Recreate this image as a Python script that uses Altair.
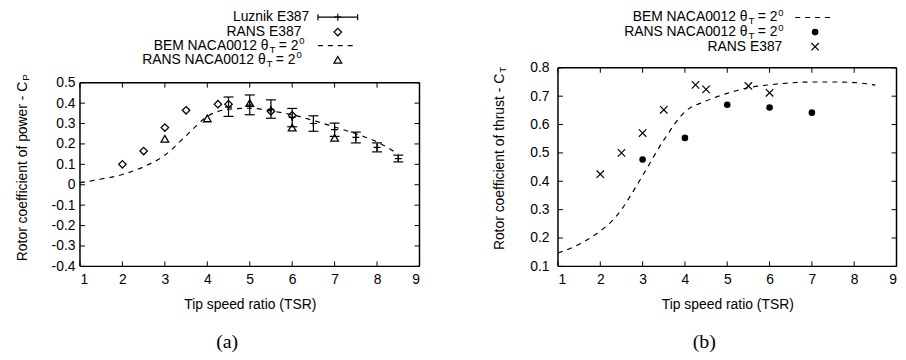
import altair as alt
import pandas as pd

# ---------------- data: panel (a) power coefficient ----------------
bem_a_tsr = [1, 1.5, 2, 2.5, 3, 3.5, 4, 4.5, 5, 5.5, 6, 6.5, 7, 7.5, 8, 8.5]
bem_a_cp = [0.01, 0.028, 0.05, 0.088, 0.145, 0.24, 0.335, 0.37, 0.375, 0.362,
            0.343, 0.315, 0.283, 0.25, 0.21, 0.15]
rans_e387_a_tsr = [2, 2.5, 3, 3.5, 4.25, 4.5, 5.5, 6]
rans_e387_a_cp = [0.10, 0.165, 0.28, 0.365, 0.395, 0.395, 0.36, 0.34]
rans_naca_a_tsr = [3, 4, 5, 6, 7]
rans_naca_a_cp = [0.225, 0.325, 0.40, 0.28, 0.23]
luznik_tsr = [4.5, 5, 5.5, 6, 6.5, 7, 7.5, 8, 8.5]
luznik_cp = [0.38, 0.39, 0.37, 0.33, 0.30, 0.27, 0.232, 0.183, 0.128]
luznik_lo = [0.335, 0.343, 0.326, 0.284, 0.262, 0.237, 0.205, 0.161, 0.112]
luznik_hi = [0.43, 0.44, 0.416, 0.374, 0.338, 0.302, 0.258, 0.205, 0.145]

# ---------------- data: panel (b) thrust coefficient ----------------
bem_b_tsr = [1, 1.5, 2, 2.25, 2.5, 2.75, 3, 3.5, 4, 4.5, 5, 5.5, 6, 6.5, 7, 7.5, 8, 8.5]
bem_b_ct = [0.147, 0.178, 0.225, 0.256, 0.30, 0.358, 0.42, 0.545, 0.645, 0.683, 0.71,
            0.73, 0.74, 0.747, 0.75, 0.75, 0.748, 0.739]
rans_naca_b_tsr = [3, 4, 5, 6, 7]
rans_naca_b_ct = [0.477, 0.553, 0.67, 0.66, 0.642]
rans_e387_b_tsr = [2, 2.5, 3, 3.5, 4.25, 4.5, 5.5, 6]
rans_e387_b_ct = [0.425, 0.50, 0.57, 0.652, 0.74, 0.724, 0.736, 0.712]

# ---------------- tick values ----------------
x_ticks = [1, 2, 3, 4, 5, 6, 7, 8, 9]
y_ticks_a = [-0.4, -0.3, -0.2, -0.1, 0.0, 0.1, 0.2, 0.3, 0.4, 0.5]
y_ticks_b = [0.1, 0.2, 0.3, 0.4, 0.5, 0.6, 0.7, 0.8]

FONT = "Liberation Sans"
SERIF = "Liberation Serif"
FS = 14
one = pd.DataFrame({"k": [0]})

DIAMOND = "M0,-1L1,0L0,1L-1,0Z"
HBAR = "M-1,0L1,0"
VBAR = "M0,-1L0,1"
PLUS = "M-1,0L1,0M0,-1L0,1"
XMARK = "M-1,-1L1,1M-1,1L1,-1"


def txt(text, x, y, size=FS, align="left", angle=0, font=FONT):
    return alt.Chart(one).mark_text(
        text=text, align=align, baseline="middle", fontSize=size, font=font,
        angle=angle, color="black"
    ).encode(x=alt.value(x), y=alt.value(y))


def sym(shape, x, y, size, filled=False, sw=1.2):
    return alt.Chart(one).mark_point(
        shape=shape, size=size, filled=filled, color="black", strokeWidth=sw, opacity=1
    ).encode(x=alt.value(x), y=alt.value(y))


def hrule(x0, x1, y, sw=1.2, dash=None):
    kw = dict(color="black", strokeWidth=sw)
    if dash:
        kw["strokeDash"] = dash
    return alt.Chart(one).mark_rule(**kw).encode(
        x=alt.value(x0), x2=alt.value(x1), y=alt.value(y))


def vrule(x, y0, y1, sw=1.5):
    return alt.Chart(one).mark_rule(color="black", strokeWidth=sw).encode(
        x=alt.value(x), y=alt.value(y0), y2=alt.value(y1))


def theta_label(prefix, y, xr):
    # prefix + θ, subscript T, " = 2", superscript 0
    return [
        txt(prefix + " \u03b8", xr, y, align="right"),
        txt("T", xr + 1, y + 4, size=10),
        txt("= 2", xr + 30, y, align="right"),
        txt("0", xr + 31, y - 4.5, size=9.5),
    ]


def x_axis():
    return alt.Axis(values=x_ticks, format="d", ticks=False, domain=False, grid=False,
                    labelFont=FONT, labelFontSize=FS, labelColor="black", labelPadding=6,
                    title="Tip speed ratio (TSR)", titleFont=FONT, titleFontSize=FS,
                    titleFontWeight="normal", titleColor="black", titlePadding=11)


def y_axis(vals, pad, expr):
    return alt.Axis(values=vals, ticks=False, domain=False, grid=False, title=None,
                    labelFont=FONT, labelFontSize=FS, labelColor="black",
                    labelPadding=pad, labelExpr=expr)


def frame_and_ticks(w, h, pt, xsc, ysc, xax, yax, yvals):
    """Box frame plus inward ticks on all four sides (gnuplot style)."""
    xdf = pd.DataFrame({"v": x_ticks})
    ydf = pd.DataFrame({"v": yvals})
    L = 5
    kw = dict(color="black", strokeWidth=1)
    xe = alt.X("v:Q", scale=xsc, axis=xax)
    ye = alt.Y("v:Q", scale=ysc, axis=yax)
    return [
        alt.Chart(xdf).mark_rule(**kw).encode(x=xe, y=alt.value(h), y2=alt.value(h - L)),
        alt.Chart(xdf).mark_rule(**kw).encode(x=xe, y=alt.value(pt), y2=alt.value(pt + L)),
        alt.Chart(ydf).mark_rule(**kw).encode(y=ye, x=alt.value(0), x2=alt.value(L)),
        alt.Chart(ydf).mark_rule(**kw).encode(y=ye, x=alt.value(w - L), x2=alt.value(w)),
        hrule(0, w, pt, sw=1.5),
        hrule(0, w, h, sw=1.5),
        vrule(0, pt, h),
        vrule(w, pt, h),
    ]


line_kw = dict(color="black", strokeWidth=1.2, strokeDash=[5, 5], interpolate="monotone")
H = 200  # view height of both panels (bottoms aligned)

# ================= panel (a) =================
WA, PA = 342, 15  # plot area of (a) starts 15 px below the view top
xs_a = alt.Scale(domain=[1, 9], nice=False, zero=False)
ys_a = alt.Scale(domain=[-0.4, 0.5], nice=False, zero=False, range=[H, PA])
expr_a = "replace(format(datum.value, '.1~f'), '\u2212', '-')"
xax_a = x_axis()
yax_a = y_axis(y_ticks_a, 5, expr_a)

bem_a = pd.DataFrame({"tsr": bem_a_tsr, "cp": bem_a_cp})
dia_a = pd.DataFrame({"tsr": rans_e387_a_tsr, "cp": rans_e387_a_cp})
tri_a = pd.DataFrame({"tsr": rans_naca_a_tsr, "cp": rans_naca_a_cp})
luz = pd.DataFrame({"tsr": luznik_tsr, "cp": luznik_cp, "lo": luznik_lo, "hi": luznik_hi})

XA = lambda f="tsr": alt.X(f + ":Q", scale=xs_a, axis=xax_a)
YA = lambda f="cp": alt.Y(f + ":Q", scale=ys_a, axis=yax_a)
pk = dict(color="black", opacity=1)

layers_a = [
    alt.Chart(bem_a).mark_line(**line_kw).encode(x=XA(), y=YA()),
    alt.Chart(luz).mark_rule(color="black", strokeWidth=1.2).encode(x=XA(), y=YA("lo"), y2="hi:Q"),
    alt.Chart(luz).mark_point(shape=HBAR, size=100, strokeWidth=1.2, **pk).encode(x=XA(), y=YA("lo")),
    alt.Chart(luz).mark_point(shape=HBAR, size=100, strokeWidth=1.2, **pk).encode(x=XA(), y=YA("hi")),
    alt.Chart(luz).mark_point(shape=PLUS, size=49, strokeWidth=1.2, **pk).encode(x=XA(), y=YA("cp")),
    alt.Chart(dia_a).mark_point(shape=DIAMOND, size=56, strokeWidth=1.3, **pk).encode(x=XA(), y=YA()),
    alt.Chart(tri_a).mark_point(shape="triangle-up", size=60, strokeWidth=1.3, **pk).encode(x=XA(), y=YA()),
]
layers_a += frame_and_ticks(WA, H, PA, xs_a, ys_a, xax_a, yax_a, y_ticks_a)

# legend (a)
SX0, SX1, SXC = 239.7, 279.7, 259.7
ya = [PA - 66, PA - 51, PA - 37.3, PA - 23]
layers_a += [
    txt("Luznik E387", 231, ya[0], align="right"),
    hrule(SX0, SX1, ya[0]),
    sym(VBAR, SX0, ya[0], 36),
    sym(VBAR, SX1, ya[0], 36),
    sym(PLUS, SXC, ya[0], 49),
    txt("RANS E387", 223, ya[1], align="right"),
    sym(DIAMOND, SXC, ya[1], 56, sw=1.3),
]
layers_a += theta_label("BEM NACA0012", ya[2], 190)
layers_a += [hrule(SX0, SX1, ya[2], dash=[5, 5])]
layers_a += theta_label("RANS NACA0012", ya[3], 187)
layers_a += [sym("triangle-up", SXC, ya[3], 60, sw=1.3)]
# y title + caption (a)
layers_a += [
    txt("Rotor coefficient of power - C", -57.5, PA - 1, align="right", angle=270),
    txt("P", -54.5, PA - 2, size=10, align="left", angle=270),
    txt("(a)", 148.3, H + 76, size=20, align="center", font=SERIF),
]

panel_a = alt.layer(*layers_a).properties(width=WA, height=H)

# ================= panel (b) =================
WB, PB = 341, 0
xs_b = alt.Scale(domain=[1, 9], nice=False, zero=False)
ys_b = alt.Scale(domain=[0.1, 0.8], nice=False, zero=False)
expr_b = "format(datum.value, '.1f')"
xax_b = x_axis()
yax_b = y_axis(y_ticks_b, 9, expr_b)

bem_b = pd.DataFrame({"tsr": bem_b_tsr, "ct": bem_b_ct})
dot_b = pd.DataFrame({"tsr": rans_naca_b_tsr, "ct": rans_naca_b_ct})
crs_b = pd.DataFrame({"tsr": rans_e387_b_tsr, "ct": rans_e387_b_ct})

XB = lambda f="tsr": alt.X(f + ":Q", scale=xs_b, axis=xax_b)
YB = lambda f="ct": alt.Y(f + ":Q", scale=ys_b, axis=yax_b)

layers_b = [
    alt.Chart(bem_b).mark_line(**line_kw).encode(x=XB(), y=YB()),
    alt.Chart(dot_b).mark_point(shape="circle", size=44, filled=True, **pk).encode(x=XB(), y=YB()),
    alt.Chart(crs_b).mark_point(shape=XMARK, size=56, strokeWidth=1.2, **pk).encode(x=XB(), y=YB()),
]
layers_b += frame_and_ticks(WB, H, PB, xs_b, ys_b, xax_b, yax_b, y_ticks_b)

SB0, SB1, SBC = 239, 279, 259
yb = [PB - 50.7, PB - 36, PB - 21.3]
layers_b += theta_label("BEM NACA0012", yb[0], 191)
layers_b += [hrule(SB0, SB1, yb[0], dash=[5, 5])]
layers_b += theta_label("RANS NACA0012", yb[1], 191)
layers_b += [
    sym("circle", SBC, yb[1], 44, filled=True),
    txt("RANS E387", 226, yb[2], align="right"),
    sym(XMARK, SBC, yb[2], 56),
    txt("Rotor coefficient of thrust - C", -58.5, PB + 6, align="right", angle=270),
    txt("T", -55.5, PB + 5, size=10, align="left", angle=270),
    txt("(b)", 147.3, H + 76, size=20, align="center", font=SERIF),
]

panel_b = alt.layer(*layers_b).properties(width=WB, height=H)

chart = alt.hconcat(panel_a, panel_b, spacing=72.5).properties(
    padding={"left": 7.5, "top": -2, "right": 0, "bottom": 0}
).configure_view(stroke=None)

chart.save("out.html", embed_options={"renderer": "svg", "actions": False})
